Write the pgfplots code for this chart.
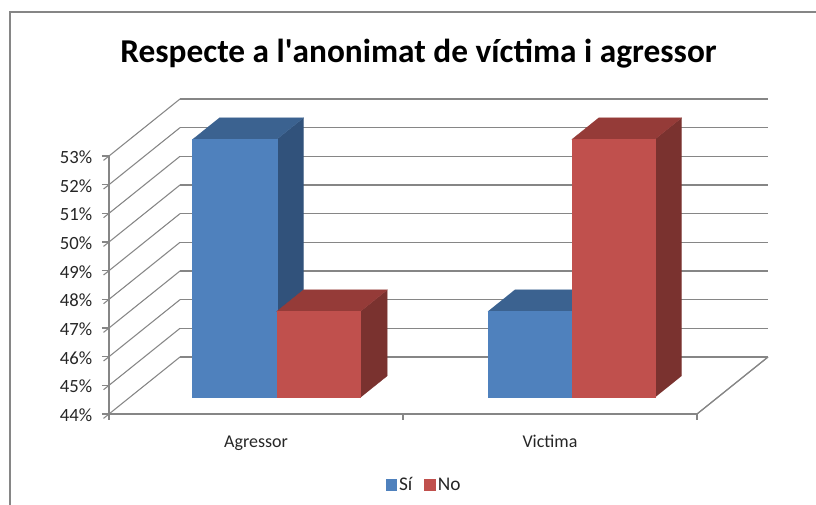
\documentclass[border=0pt]{standalone}
\usepackage{fontspec}
\setmainfont{Carlito}
\usepackage{pgfplots}
\pgfplotsset{compat=1.18}
\definecolor{gridgray}{HTML}{868686}
\definecolor{txtgray}{HTML}{262626}
\definecolor{siFront}{HTML}{4F81BD}
\definecolor{siTop}{HTML}{3B6290}
\definecolor{siSide}{HTML}{31527B}
\definecolor{noFront}{HTML}{C0504D}
\definecolor{noTop}{HTML}{953B38}
\definecolor{noSide}{HTML}{7A322F}

% one 3D column: left x, right x, value, colour prefix, options of the front face
\newcommand{\column}[5]{%
  \addplot3[fill=#4Side, draw=#4Side, line width=0.1pt, forget plot]
    coordinates {(#2,0.29,44) (#2,0.67,44) (#2,0.67,#3) (#2,0.29,#3)} --cycle;
  \addplot3[fill=#4Top, draw=#4Top, line width=0.1pt, forget plot]
    coordinates {(#1,0.29,#3) (#2,0.29,#3) (#2,0.67,#3) (#1,0.67,#3)} --cycle;
  \addplot3[fill=#4Front, draw=#4Front, line width=0.1pt, #5]
    coordinates {(#1,0.29,44) (#2,0.29,44) (#2,0.29,#3) (#1,0.29,#3)} --cycle;
}

\begin{document}
\begin{tikzpicture}
\begin{axis}[
  x={(220.5pt,0pt)}, y={(53.25pt,42.75pt)}, z={(0pt,21.5pt)},
  xmin=0, xmax=2, ymin=0, ymax=1, zmin=44, zmax=53,
  clip=false,
  axis lines*=left,
  axis line style={draw=gridgray, line width=0.9pt},
  tick style={draw=gridgray, line width=0.8pt},
  major tick length=5.25pt,
  tick align=outside,
  xtick={0,1,2}, xticklabels={},
  x tick style={draw=none},
  extra x ticks={0.5,1.5},
  extra x tick labels={Agressor,Victima},
  extra x tick style={major tick length=0pt,
    xticklabel style={anchor=base, yshift=-25.5pt}},
  ytick=\empty,
  ztick={44,45,...,53},
  zticklabel={\pgfmathprintnumber{\tick}\%},
  /pgf/number format/assume math mode=true,
  zticklabel style={anchor=east, xshift=-5pt, yshift=2.5pt,
    font=\fontsize{14pt}{16pt}\selectfont},
  xticklabel style={font=\fontsize{13.5pt}{15pt}\selectfont},
  tick label style={text=txtgray},
  grid=none,
  zmajorgrids=true,
  grid style={draw=gridgray, line width=0.8pt},
  title={Respecte a l\textquotesingle anonimat de víctima i agressor},
  title style={at={(axis description cs:0.4697,1.119)}, anchor=center,
    font=\fontsize{25pt}{28pt}\selectfont\bfseries},
  legend style={at={(axis description cs:0.4786,-0.225)}, anchor=center,
    draw=none, fill=none, legend columns=2,
    font=\fontsize{14.5pt}{16pt}\selectfont, text=txtgray,
    /tikz/every even column/.style={column sep=7pt}},
  legend image code/.code={\fill[#1] (0pt,-4pt) rectangle (8pt,4pt);},
]
  % right edge of the floor and the three ticks of the category axis
  \addplot3[draw=gridgray, line width=0.8pt, forget plot]
    coordinates {(2,0,44) (2,1,44)};
  \addplot3[draw=gridgray, line width=0.8pt, forget plot]
    coordinates {(0,0,44) (0,0,43.78)};
  \addplot3[draw=gridgray, line width=0.8pt, forget plot]
    coordinates {(1,0,44) (1,0,43.78)};
  \addplot3[draw=gridgray, line width=0.8pt, forget plot]
    coordinates {(2,0,44) (2,0,43.78)};

  \column{0.214}{0.5}{53}{si}{}
  \addlegendentry{Sí}
  \column{0.5}{0.785}{47}{no}{}
  \addlegendentry{No}
  \column{1.219}{1.504}{47}{si}{forget plot}
  \column{1.504}{1.786}{53}{no}{forget plot}

  \coordinate (O) at (axis cs:0,0,44);
\end{axis}
% outer frame of the chart, page size 816x505 px at 0.75pt per px
\draw[gridgray, line width=1.1pt] ([shift={(-74.25pt,-68.25pt)}]O)
  -- ([shift={(-74.25pt,301.5pt)}]O) -- ([shift={(530.25pt,301.5pt)}]O);
\pgfresetboundingbox
\path[use as bounding box] ([shift={(-81.75pt,-68.25pt)}]O) rectangle ([shift={(530.25pt,310.5pt)}]O);
\end{tikzpicture}
\end{document}
